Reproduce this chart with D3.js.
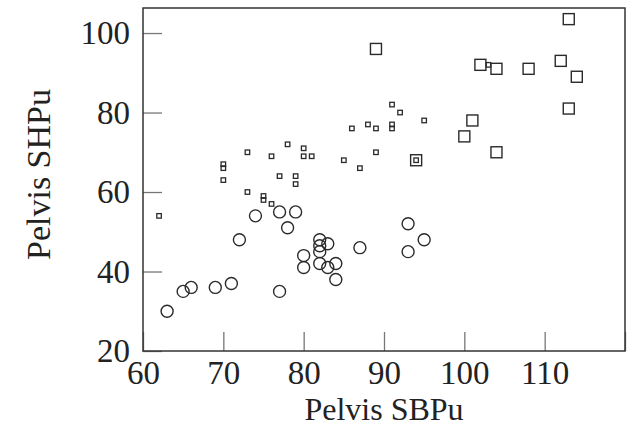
<!DOCTYPE html>
<html>
<head>
<meta charset="utf-8">
<script src="https://cdn.jsdelivr.net/npm/d3@7"></script>
<style>
  body { margin: 0; background: #fff; }
  text { font-family: "Liberation Serif", serif; fill: #222; }
</style>
</head>
<body>
<svg id="chart" width="643" height="427"></svg>
<script>
// circles
const circleX = [63, 65, 66, 69, 71, 72, 74, 77, 79, 78, 82, 82, 82, 83, 80, 80, 82, 83, 84, 84, 77, 87, 93, 95, 93];
const circleY = [30, 35, 36, 36, 37, 48, 54, 55, 55, 51, 48, 46.5, 45, 47, 44, 41, 42, 41, 42, 38, 35, 46, 52, 48, 45];
// small squares
const smallX = [62, 70, 70, 70, 73, 73, 75, 75, 76, 76, 78, 77, 79, 79, 80, 80, 81, 86, 88, 89, 91, 92, 91, 91, 95, 85, 87, 89, 94, 103];
const smallY = [54, 67, 66, 63, 70, 60, 59, 58, 69, 57, 72, 64, 64, 62, 71, 69, 69, 76, 77, 76, 82, 80, 77, 76, 78, 68, 66, 70, 68, 92];
// large squares
const largeX = [113, 89, 102, 104, 108, 112, 114, 113, 101, 100, 104, 94];
const largeY = [103.5, 96, 92, 91, 91, 93, 89, 81, 78, 74, 70, 68];

const xTicks = [60, 70, 80, 90, 100, 110, 120];
const yTicks = [20, 40, 60, 80, 100];

const margin = {top: 8, right: 18, bottom: 76, left: 143};
const width = 643, height = 427;

const svg = d3.select("#chart");
const g = svg.append("g").attr("transform", `translate(${margin.left}, ${margin.top})`);
const w = width - margin.left - margin.right;
const h = height - margin.top - margin.bottom;

const x = d3.scaleLinear().domain([60, 120]).range([0, w]);
const y = d3.scaleLinear().domain([20, 106.3]).range([h, 0]);

const xAxis = g.append("g")
  .attr("transform", `translate(0, ${h})`)
  .call(d3.axisBottom(x).tickValues(xTicks).tickSizeInner(-19).tickSizeOuter(0).tickPadding(10)
    .tickFormat(d => d === 120 ? "" : d));
const yAxis = g.append("g")
  .call(d3.axisLeft(y).tickValues(yTicks).tickSizeInner(-19).tickSizeOuter(0).tickPadding(13));

[xAxis, yAxis].forEach(a => {
  a.select(".domain").remove();
  a.selectAll(".tick line").attr("stroke", "#777").attr("stroke-width", 1.3);
  a.selectAll(".tick text").attr("font-size", 33).attr("font-family", "Liberation Serif").attr("fill", "#222");
});

// frame
g.append("rect")
  .attr("width", w).attr("height", h)
  .attr("fill", "none").attr("stroke", "#333").attr("stroke-width", 1.5);

const marks = g.append("g").attr("fill", "none").attr("stroke", "#2a2a2a").attr("stroke-width", 1.4);

marks.selectAll(".circ")
  .data(d3.range(circleX.length))
  .join("circle")
  .attr("cx", i => x(circleX[i]))
  .attr("cy", i => y(circleY[i]))
  .attr("r", 6);

const sq = (cls, xs, ys, s) => marks.selectAll("." + cls)
  .data(d3.range(xs.length))
  .join("rect")
  .attr("class", cls)
  .attr("x", i => x(xs[i]) - s / 2)
  .attr("y", i => y(ys[i]) - s / 2)
  .attr("width", s).attr("height", s);

sq("small", smallX, smallY, 4.5).attr("stroke-width", 1.3);
sq("large", largeX, largeY, 11);

svg.append("text")
  .attr("x", margin.left + w / 2).attr("y", 419.5)
  .attr("text-anchor", "middle").attr("font-size", 32)
  .text("Pelvis SBPu");

svg.append("text")
  .attr("transform", `translate(50, ${margin.top + h / 2 - 5}) rotate(-90)`)
  .attr("text-anchor", "middle").attr("font-size", 34)
  .text("Pelvis SHPu");
</script>
</body>
</html>
